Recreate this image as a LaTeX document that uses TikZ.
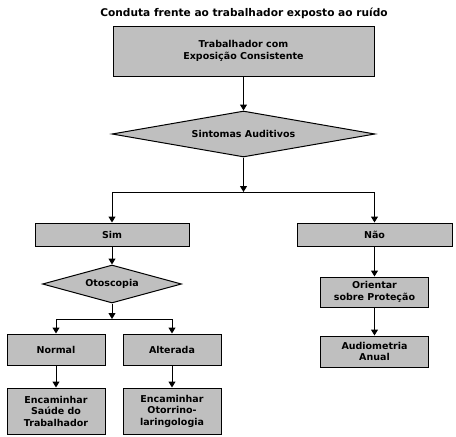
\documentclass[tikz,border=0pt]{standalone}
\usepackage{fontspec}
\setmainfont{DejaVu Sans}
\usetikzlibrary{shapes.geometric,arrows.meta,positioning}

\tikzset{
  caixa/.style={draw, line width=1pt, fill=black!25, align=center, font=\bfseries\fontsize{9.5}{11.5}\selectfont, inner sep=1pt},
  losango/.style={diamond, draw, line width=1pt, fill=black!25, align=center, font=\bfseries\fontsize{9.5}{11.5}\selectfont, inner sep=0pt},
  seta/.style={->, line width=1pt},
  >={Triangle[length=6pt,width=7pt]}
}

\begin{document}
\begin{tikzpicture}[x=1pt, y=-1pt]
    \useasboundingbox (0,0) rectangle (456,437);

    \node (titulo) at (244,13) {\bfseries\fontsize{10.6}{12}\selectfont Conduta frente ao trabalhador exposto ao ruído};

    \node (trab)[caixa, minimum width=261pt, minimum height=50pt] at (243.5,51) {Trabalhador com\\Exposição Consistente};
    \node (sint)[losango, aspect=5.7, minimum width=263pt, minimum height=46pt] at (243.5,134) {Sintomas Auditivos};
    \coordinate (j1) at (243.5,192);

    \node (sim)[caixa, minimum width=154pt, minimum height=23pt] at (112,234.5) {Sim};
    \node (nao)[caixa, minimum width=155pt, minimum height=23pt] at (374.5,234.5) {Não};

    \node (otos)[losango, aspect=3.6, minimum width=139pt, minimum height=38pt] at (112,284) {Otoscopia};
    \coordinate (j2) at (112,319);

    \node (orient)[caixa, minimum width=108pt, minimum height=30pt] at (374.5,292) {Orientar\\sobre Proteção};
    \node (audio)[caixa, minimum width=108pt, minimum height=31pt] at (374.5,351.5) {Audiometria\\Anual};

    \node (normal)[caixa, minimum width=98pt, minimum height=31pt] at (56,349.5) {Normal};
    \node (alter)[caixa, minimum width=98pt, minimum height=31pt] at (172,349.5) {Alterada};

    \node (encst)[caixa, minimum width=98pt, minimum height=46pt] at (56,411) {Encaminhar\\Saúde do\\Trabalhador};
    \node (encorl)[caixa, minimum width=98pt, minimum height=46pt] at (172,411) {Encaminhar\\Otorrino-\\laringologia};

    % ligacoes
    \draw[seta] (trab) -- (sint);
    \draw[seta] (sint) -- (j1);
    \draw[seta] (j1) -| (sim);
    \draw[seta] (j1) -| (nao);
    \draw[seta] (sim) -- (otos);
    \draw[seta] (otos) -- (j2);
    \draw[seta] (j2) -| (normal);
    \draw[seta] (j2) -| (alter);
    \draw[seta] (normal) -- (encst);
    \draw[seta] (alter) -- (encorl);
    \draw[seta] (nao) -- (orient);
    \draw[seta] (orient) -- (audio);
\end{tikzpicture}
\end{document}
